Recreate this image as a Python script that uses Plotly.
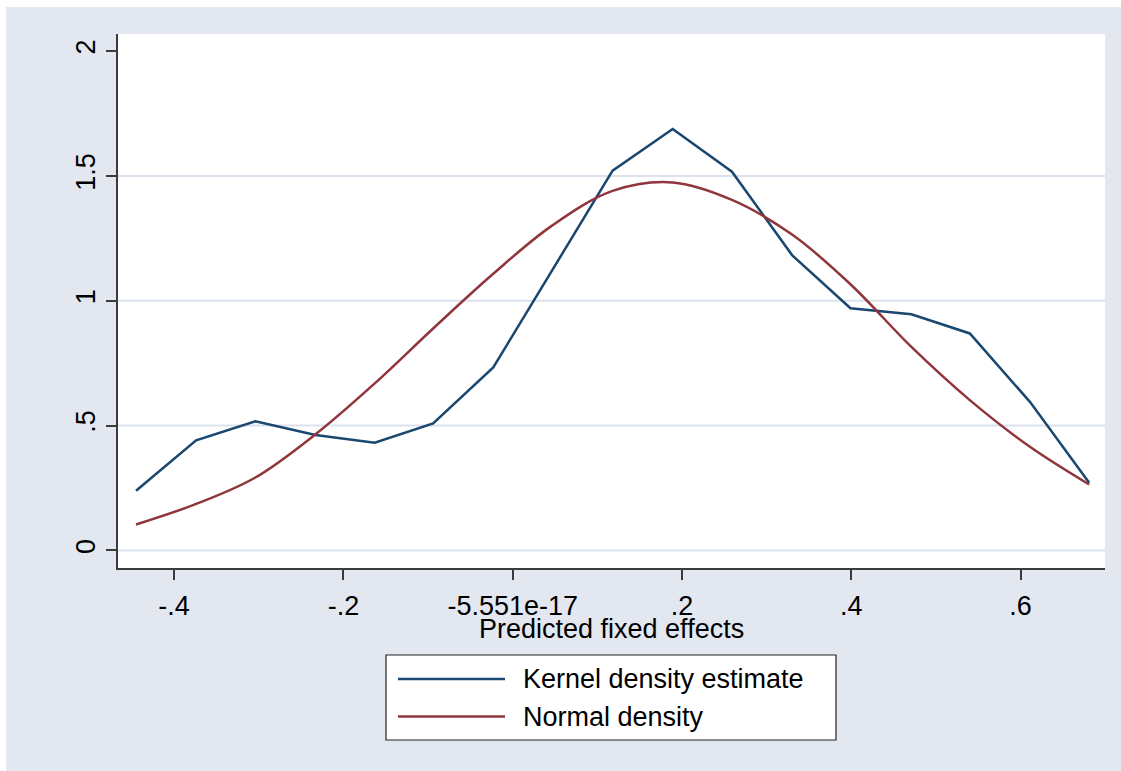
import plotly.graph_objects as go

# ---- data ----
KDE_X = [-0.445, -0.374, -0.304, -0.233, -0.163, -0.094, -0.023, 0.046, 0.118,
         0.189, 0.259, 0.330, 0.399, 0.471, 0.540, 0.611, 0.681]
KDE_Y = [0.239, 0.441, 0.517, 0.462, 0.431, 0.509, 0.733, 1.119, 1.521,
         1.688, 1.517, 1.183, 0.970, 0.946, 0.869, 0.595, 0.271]
NORMAL_Y = [0.104, 0.186, 0.292, 0.465, 0.669, 0.889, 1.108, 1.300, 1.440,
            1.474, 1.404, 1.265, 1.066, 0.815, 0.602, 0.415, 0.264]

XTICK_VALS = [-0.4, -0.2, 0.0, 0.2, 0.4, 0.6]
XTICK_TEXT = ["-.4", "-.2", "-5.551e-17", ".2", ".4", ".6"]
YTICK_VALS = [0, 0.5, 1, 1.5, 2]
YTICK_TEXT = ["0", ".5", "1", "1.5", "2"]
GRID_VALS = [0, 0.5, 1, 1.5]

SERIES_NAMES = ["Kernel density estimate", "Normal density"]
X_TITLE = "Predicted fixed effects"

# ---- styles ----
BLUE = "#1a476f"
RED = "#90353b"
BG = "#e2e7f0"
GRID = "#dce2ed"
AXIS = "#3a3a3a"
FONT = "Liberation Sans, Arial, sans-serif"
FS = 27

W, H = 1121, 771
L, R, T, B = 118, 16, 34, 203
PW, PH = W - L - R, H - T - B


def px_x(p):
    return (p - L) / PW


def px_y(p):
    return (H - B - p) / PH


fig = go.Figure()
fig.add_trace(go.Scatter(x=KDE_X, y=KDE_Y, mode="lines", name=SERIES_NAMES[0],
                         line=dict(color=BLUE, width=2.5), showlegend=False))
fig.add_trace(go.Scatter(x=KDE_X, y=NORMAL_Y, mode="lines", name=SERIES_NAMES[1],
                         line=dict(color=RED, width=2.5, shape="spline", smoothing=1.0),
                         showlegend=False))

shapes = []
# horizontal gridlines (none at the top tick)
for g in GRID_VALS:
    shapes.append(dict(type="line", xref="paper", yref="y", x0=0, x1=1, y0=g, y1=g,
                       line=dict(color=GRID, width=2), layer="below"))
# white strips at the top and left of the outer region
shapes.append(dict(type="rect", xref="paper", yref="paper",
                   x0=px_x(-5), x1=px_x(6), y0=px_y(H + 5), y1=px_y(-5),
                   fillcolor="white", line=dict(width=0), layer="above"))
shapes.append(dict(type="rect", xref="paper", yref="paper",
                   x0=px_x(-5), x1=px_x(W + 5), y0=px_y(7), y1=px_y(-5),
                   fillcolor="white", line=dict(width=0), layer="above"))
# legend box
shapes.append(dict(type="rect", xref="paper", yref="paper",
                   x0=px_x(386), x1=px_x(836), y0=px_y(740), y1=px_y(655),
                   fillcolor="white", line=dict(color="#222222", width=1.2), layer="above"))
shapes.append(dict(type="line", xref="paper", yref="paper",
                   x0=px_x(398), x1=px_x(505), y0=px_y(679), y1=px_y(679),
                   line=dict(color=BLUE, width=2.5), layer="above"))
shapes.append(dict(type="line", xref="paper", yref="paper",
                   x0=px_x(398), x1=px_x(505), y0=px_y(716.5), y1=px_y(716.5),
                   line=dict(color=RED, width=2.5), layer="above"))

annotations = [
    dict(text=SERIES_NAMES[0], xref="paper", yref="paper", x=px_x(521), y=px_y(679),
         xanchor="left", yanchor="middle", showarrow=False,
         font=dict(family=FONT, size=FS, color="black")),
    dict(text=SERIES_NAMES[1], xref="paper", yref="paper", x=px_x(521), y=px_y(716.5),
         xanchor="left", yanchor="middle", showarrow=False,
         font=dict(family=FONT, size=FS, color="black")),
    dict(text=X_TITLE, xref="paper", yref="paper", x=0.5, y=px_y(629),
         xanchor="center", yanchor="middle", showarrow=False,
         font=dict(family=FONT, size=27, color="black")),
]

fig.update_layout(
    width=W, height=H,
    margin=dict(l=L, r=R, t=T, b=B, pad=0),
    paper_bgcolor=BG, plot_bgcolor="white",
    font=dict(family=FONT, size=FS, color="black"),
    shapes=shapes, annotations=annotations,
    showlegend=False,
    xaxis=dict(range=[-0.4663, 0.6997], tickmode="array", tickvals=XTICK_VALS,
               ticktext=XTICK_TEXT, ticks="outside", ticklen=10, tickwidth=1.5,
               tickcolor=AXIS, showline=True, linecolor=AXIS, linewidth=1.5,
               showgrid=False, zeroline=False, tickfont=dict(size=FS),
               ticklabelstandoff=3),
    yaxis=dict(range=[-0.0705, 2.0685], tickmode="array", tickvals=YTICK_VALS,
               ticktext=YTICK_TEXT, ticks="outside", ticklen=10, tickwidth=1.5,
               tickcolor=AXIS, showline=True, linecolor=AXIS, linewidth=1.5,
               showgrid=False, zeroline=False, tickangle=-90, tickfont=dict(size=FS)),
)

fig.write_html("out.html", config={"displayModeBar": False},
               post_script="document.body.style.margin='0';")
